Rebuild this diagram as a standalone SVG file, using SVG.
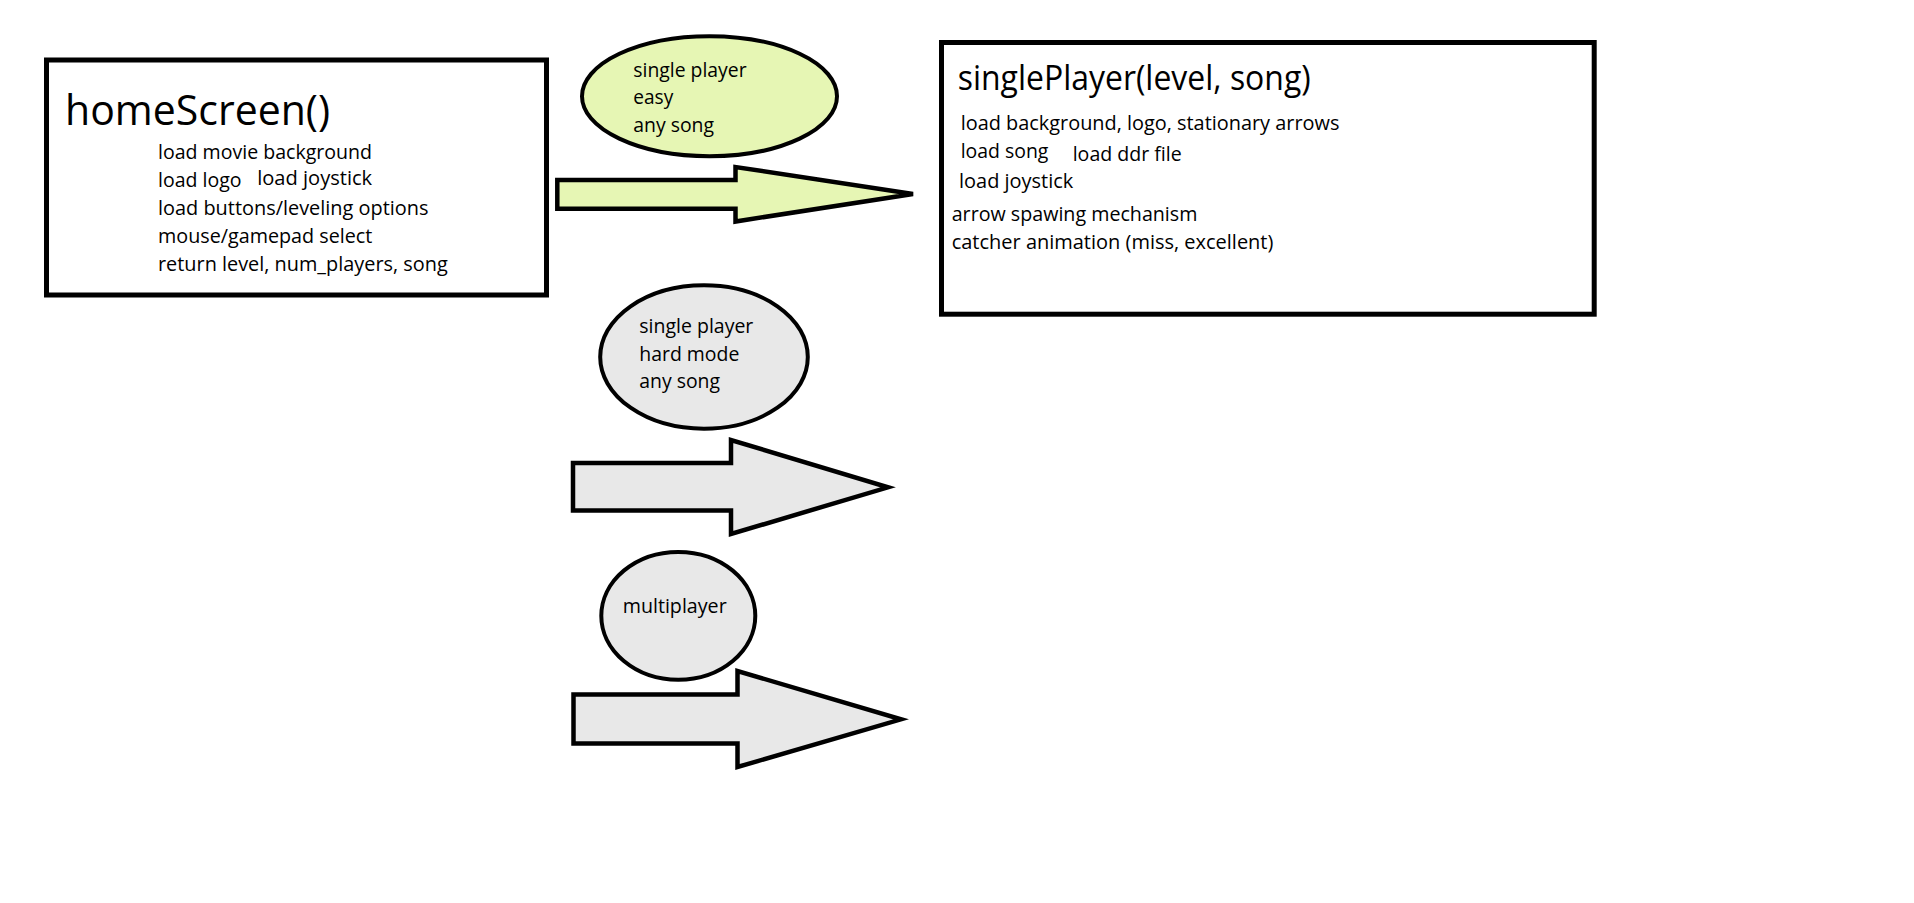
<svg xmlns="http://www.w3.org/2000/svg" width="1914" height="903" viewBox="0 0 1914 903">
<style>
.box{fill:#ffffff;stroke:#000000;stroke-width:5}
.ell{stroke:#000000;stroke-width:4}
.arr{stroke:#000000;stroke-width:4.5;stroke-linejoin:miter}
.green{fill:#E6F6B4}
.gray{fill:#E8E8E8}
text{font-family:"Open Sans","Noto Sans","Liberation Sans",sans-serif;fill:#000000}
.t1{font-size:42px}
.t2{font-size:34px}
.b{font-size:19.5px}
</style>
<rect x="0" y="0" width="1914" height="903" fill="#ffffff"/>
<g id="homeScreen">
<rect class="box" x="46.5" y="60" width="500" height="235"/>
<text class="t1" x="65" y="125" textLength="265" lengthAdjust="spacingAndGlyphs">homeScreen()</text>
<text class="b" x="158" y="159.3" textLength="214" lengthAdjust="spacingAndGlyphs">load movie background</text>
<text class="b" x="158" y="186.7" textLength="83.5" lengthAdjust="spacingAndGlyphs">load logo</text>
<text class="b" x="257.2" y="185" textLength="115" lengthAdjust="spacingAndGlyphs">load joystick</text>
<text class="b" x="158" y="215" textLength="270.5" lengthAdjust="spacingAndGlyphs">load buttons/leveling options</text>
<text class="b" x="158" y="243.3" textLength="214.3" lengthAdjust="spacingAndGlyphs">mouse/gamepad select</text>
<text class="b" x="158" y="271" textLength="289.7" lengthAdjust="spacingAndGlyphs">return level, num_players, song</text>
</g>
<g id="singlePlayer">
<rect class="box" x="941.5" y="42.5" width="652.7" height="271.7"/>
<text class="t2" x="957.7" y="90" textLength="353" lengthAdjust="spacingAndGlyphs">singlePlayer(level, song)</text>
<text class="b" x="960.7" y="130" textLength="378.7" lengthAdjust="spacingAndGlyphs">load background, logo, stationary arrows</text>
<text class="b" x="960.7" y="158.3" textLength="87.7" lengthAdjust="spacingAndGlyphs">load song</text>
<text class="b" x="1072.7" y="160.7" textLength="109" lengthAdjust="spacingAndGlyphs">load ddr file</text>
<text class="b" x="959" y="188.3" textLength="114.3" lengthAdjust="spacingAndGlyphs">load joystick</text>
<text class="b" x="951.7" y="220.7" textLength="245.7" lengthAdjust="spacingAndGlyphs">arrow spawing mechanism</text>
<text class="b" x="951.7" y="249" textLength="321.7" lengthAdjust="spacingAndGlyphs">catcher animation (miss, excellent)</text>
</g>
<g id="optionEasy">
<ellipse class="ell green" cx="709.5" cy="96.2" rx="127.5" ry="60"/>
<text class="b" x="633.3" y="76.7" textLength="113.3" lengthAdjust="spacingAndGlyphs">single player</text>
<text class="b" x="633.3" y="104" textLength="40" lengthAdjust="spacingAndGlyphs">easy</text>
<text class="b" x="633.3" y="131.7" textLength="80.7" lengthAdjust="spacingAndGlyphs">any song</text>
</g>
<g id="optionHard">
<ellipse class="ell gray" cx="704" cy="357" rx="103.8" ry="71.7"/>
<text class="b" x="639.3" y="333.3" textLength="114" lengthAdjust="spacingAndGlyphs">single player</text>
<text class="b" x="639.3" y="360.7" textLength="100" lengthAdjust="spacingAndGlyphs">hard mode</text>
<text class="b" x="639.3" y="388.3" textLength="80.7" lengthAdjust="spacingAndGlyphs">any song</text>
</g>
<g id="optionMulti">
<ellipse class="ell gray" cx="678.3" cy="615.8" rx="77" ry="63.9"/>
<text class="b" x="622.7" y="613.3" textLength="104" lengthAdjust="spacingAndGlyphs">multiplayer</text>
</g>
<g id="connectors">
<polygon class="arr green" points="557.3,180 735.5,180 735.5,167 913,194 735.5,221.5 735.5,208.8 557.3,208.8"/>
<polygon class="arr gray" points="573,463 731,463 731,440 888,487.3 731,534 731,510.4 573,510.4"/>
<polygon class="arr gray" points="573.5,694.5 737.5,694.5 737.5,671 901,719.3 737.5,767 737.5,743.5 573.5,743.5"/>
</g>
</svg>
